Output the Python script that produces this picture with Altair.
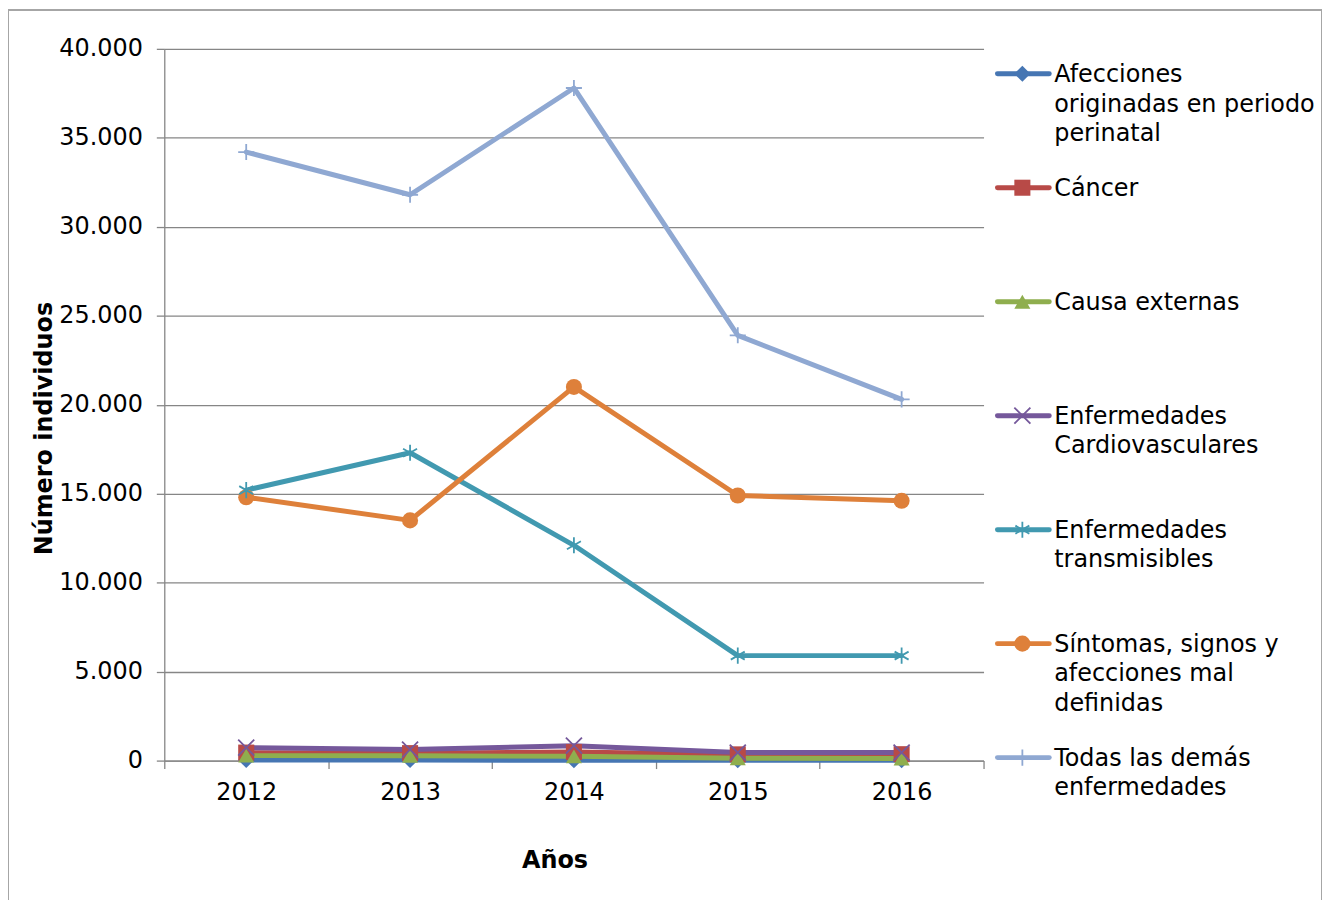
import altair as alt
import pandas as pd

years = ["2012", "2013", "2014", "2015", "2016"]
series = [
    "Afecciones originadas en periodo perinatal",
    "Cáncer",
    "Causa externas",
    "Enfermedades Cardiovasculares",
    "Enfermedades transmisibles",
    "Síntomas, signos y afecciones mal definidas",
    "Todas las demás enfermedades",
]
legend_labels = [
    "Afecciones\noriginadas en periodo\nperinatal",
    "Cáncer",
    "Causa externas",
    "Enfermedades\nCardiovasculares",
    "Enfermedades\ntransmisibles",
    "Síntomas, signos y\nafecciones mal\ndefinidas",
    "Todas las demás\nenfermedades",
]
afecciones = [30, 30, 20, 20, 20]
cancer = [450, 420, 480, 350, 360]
causa = [280, 270, 240, 130, 120]
cardio = [730, 620, 840, 450, 450]
transmisibles = [15200, 17300, 12100, 5900, 5900]
sintomas = [14800, 13500, 21000, 14900, 14600]
todas = [34200, 31800, 37800, 23900, 20300]

colors = ["#4676B3", "#B84A47", "#8FAE4E", "#75589B", "#4199B0", "#DE803A", "#8FA8D2"]
shapes = [
    "diamond",
    "square",
    "triangle-up",
    "M-1,-1L1,1M-1,1L1,-1",
    "M0,-1L0,1M-0.87,-0.5L0.87,0.5M-0.87,0.5L0.87,-0.5",
    "circle",
    "M-1,0L1,0M0,-1L0,1",
]
filled_series = [series[0], series[1], series[2], series[5]]
y_ticks = [0, 5000, 10000, 15000, 20000, 25000, 30000, 35000, 40000]

rows = []
for s, vals in zip(series, [afecciones, cancer, causa, cardio, transmisibles, sintomas, todas]):
    for y, v in zip(years, vals):
        rows.append({"year": y, "serie": s, "value": v})
df = pd.DataFrame(rows)
leg = pd.DataFrame({"serie": series, "label": legend_labels, "idx": list(range(len(series)))})
one = pd.DataFrame({"a": [0]})

FONT = "DejaVu Sans"
color_scale = alt.Scale(domain=series, range=colors)
shape_scale = alt.Scale(domain=series, range=shapes)

x_enc = alt.X(
    "year:O",
    scale=alt.Scale(domain=years, paddingInner=0, paddingOuter=0),
    axis=alt.Axis(
        title="Años", labelAngle=0, tickBand="extent", grid=False,
        titleX=392, titleY=100, titleBaseline="middle",
        labelPadding=12, tickSize=8,
    ),
)
y_enc = alt.Y(
    "value:Q",
    scale=alt.Scale(domain=[0, 40000], nice=False),
    axis=alt.Axis(
        title="Número individuos", values=y_ticks, grid=True,
        labelExpr="replace(format(datum.value, ','), ',', '.')",
        titleX=-120, titleY=381, titleBaseline="middle",
        labelPadding=14, tickSize=8,
    ),
)

base = alt.Chart(df)
lines = base.mark_line(strokeWidth=5, strokeJoin="round", strokeCap="round").encode(
    x=x_enc, y=y_enc,
    color=alt.Color("serie:N", scale=color_scale, legend=None),
)
pts_filled = base.transform_filter(
    alt.FieldOneOfPredicate(field="serie", oneOf=filled_series)
).mark_point(filled=True, opacity=1, size=260).encode(
    x=x_enc, y=y_enc,
    color=alt.Color("serie:N", scale=color_scale, legend=None),
    shape=alt.Shape("serie:N", scale=shape_scale, legend=None),
)
pts_open = base.transform_filter(
    {"not": alt.FieldOneOfPredicate(field="serie", oneOf=filled_series)}
).mark_point(filled=False, opacity=1, size=260, strokeWidth=1.8).encode(
    x=x_enc, y=y_enc,
    color=alt.Color("serie:N", scale=color_scale, legend=None),
    shape=alt.Shape("serie:N", scale=shape_scale, legend=None),
)
main = alt.layer(lines, pts_filled, pts_open)

ly = alt.Y("idx:Q", scale=alt.Scale(domain=[0, 6], range=[25, 712], nice=False, zero=False), axis=None)
lbase = alt.Chart(leg)
leg_rule = lbase.mark_rule(strokeWidth=5, strokeCap="round").encode(
    x=alt.value(837), x2=alt.value(889), y=ly,
    color=alt.Color("serie:N", scale=color_scale, legend=None),
)
leg_filled = lbase.transform_filter(
    alt.FieldOneOfPredicate(field="serie", oneOf=filled_series)
).mark_point(filled=True, opacity=1, size=260).encode(
    x=alt.value(862), y=ly,
    color=alt.Color("serie:N", scale=color_scale, legend=None),
    shape=alt.Shape("serie:N", scale=shape_scale, legend=None),
)
leg_open = lbase.transform_filter(
    {"not": alt.FieldOneOfPredicate(field="serie", oneOf=filled_series)}
).mark_point(filled=False, opacity=1, size=260, strokeWidth=1.8).encode(
    x=alt.value(862), y=ly,
    color=alt.Color("serie:N", scale=color_scale, legend=None),
    shape=alt.Shape("serie:N", scale=shape_scale, legend=None),
)
leg_text = lbase.mark_text(
    align="left", baseline="alphabetic", dy=8, lineBreak="\n", lineHeight=30,
    font=FONT, fontSize=24, color="black",
).encode(x=alt.value(894), y=ly, text="label:N")
legend_layer = alt.layer(leg_rule, leg_filled, leg_open, leg_text)

bcol = "#A6A6A6"
b_left = alt.Chart(one).mark_rule(color=bcol, strokeWidth=2).encode(
    x=alt.value(-157), y=alt.value(-39), y2=alt.value(1000))
b_right = alt.Chart(one).mark_rule(color=bcol, strokeWidth=2).encode(
    x=alt.value(1163), y=alt.value(-39), y2=alt.value(1000))
b_top = alt.Chart(one).mark_rule(color=bcol, strokeWidth=2).encode(
    x=alt.value(-157), x2=alt.value(1163), y=alt.value(-39))
border = alt.layer(b_left, b_right, b_top)

chart = alt.layer(main, legend_layer, border).resolve_scale(
    y="independent"
).properties(
    width=823, height=715,
    autosize=alt.AutoSizeParams(type="none"),
    padding={"left": 157, "top": 39, "right": 340, "bottom": 138},
).configure_view(stroke=None).configure_axis(
    labelFont=FONT, labelFontSize=24, labelColor="black",
    titleFont=FONT, titleFontSize=24, titleFontWeight="bold", titleColor="black",
    domainColor="#868686", domainWidth=1.3, tickColor="#868686", tickWidth=1.3,
    gridColor="#868686", gridWidth=1.3,
)

chart.save("out.html", embed_options={"renderer": "svg", "actions": False})
